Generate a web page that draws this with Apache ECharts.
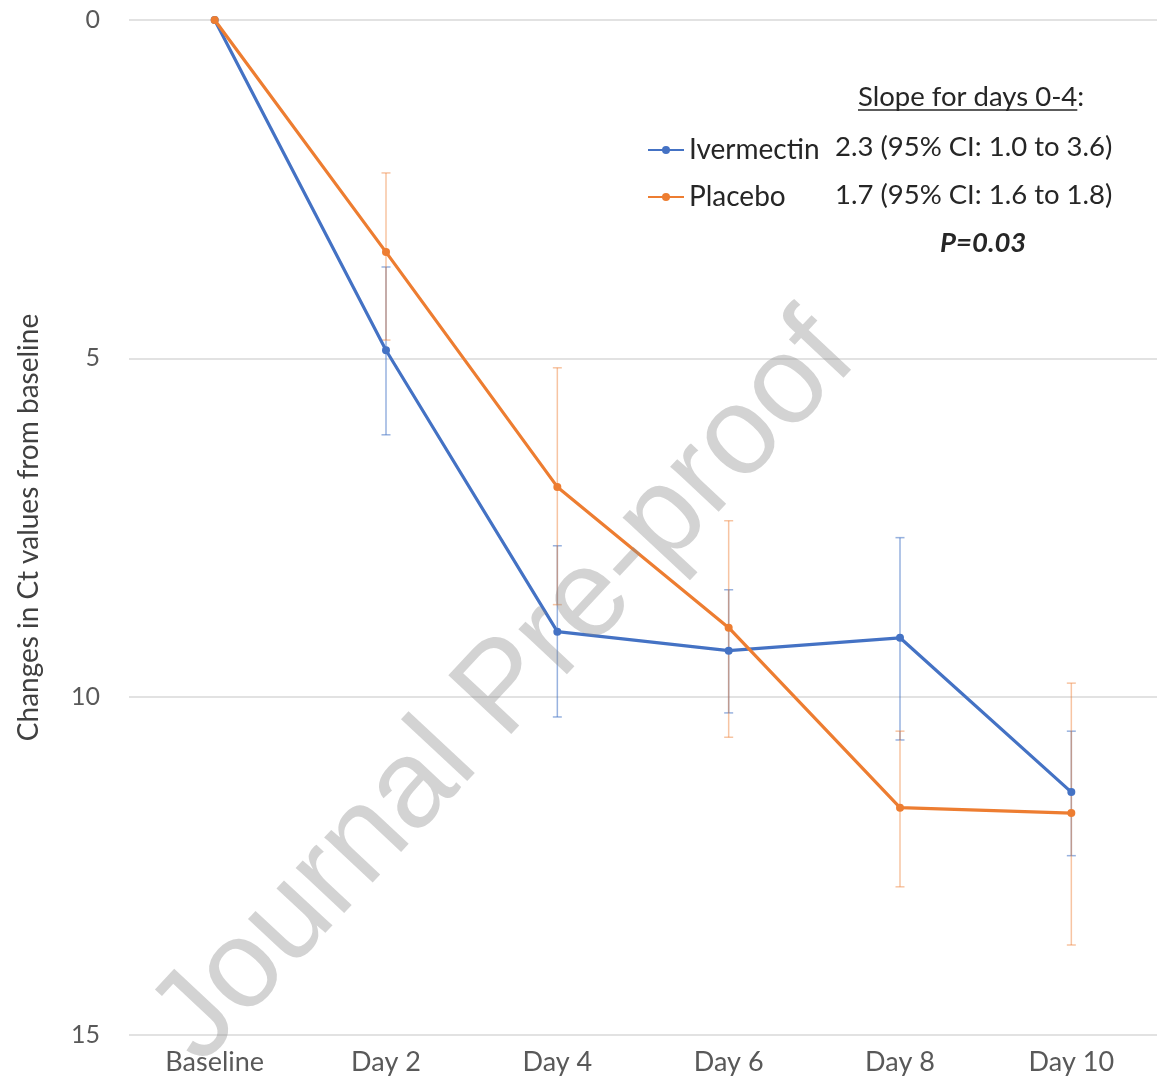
<!DOCTYPE html>
<html><head><meta charset="utf-8">
<script src="https://cdn.jsdelivr.net/npm/echarts@6/dist/echarts.min.js"></script>
<style>html,body{margin:0;padding:0;background:#fff}#c{width:1157px;height:1085px}</style>
</head><body><div id="c"></div>
<script>
var categories = ['Baseline','Day 2','Day 4','Day 6','Day 8','Day 10'];
var ivermectin = [0, 4.88, 9.04, 9.32, 9.13, 11.41];
var placebo    = [0, 3.43, 6.90, 8.98, 11.64, 11.72];
var ivermectinLow  = [null, 3.65, 7.77, 8.42, 7.65, 10.51];
var ivermectinHigh = [null, 6.13, 10.30, 10.24, 10.64, 12.35];
var placeboLow  = [null, 2.26, 5.14, 7.40, 10.51, 9.80];
var placeboHigh = [null, 4.73, 8.64, 10.60, 12.81, 13.67];
var yTicks = [0, 5, 10, 15];

var BLUE = '#4472C4', ORANGE = '#ED7D31';
var FONT = 'Lato';
var TXT = 27.5;

function errData(lo, hi){
  var out = [];
  for (var i = 0; i < lo.length; i++) if (lo[i] != null) out.push([i, lo[i], hi[i]]);
  return out;
}
function errRender(color){
  return function(params, api){
    var x = api.value(0), lo = api.value(1), hi = api.value(2);
    var p1 = api.coord([x, lo]), p2 = api.coord([x, hi]);
    var w = 4.5;
    var st = {stroke: color, lineWidth: 1.5};
    return {type:'group', children:[
      {type:'line', shape:{x1:p1[0],y1:p1[1],x2:p2[0],y2:p2[1]}, style:st},
      {type:'line', shape:{x1:p1[0]-w,y1:p1[1],x2:p1[0]+w,y2:p1[1]}, style:st},
      {type:'line', shape:{x1:p2[0]-w,y1:p2[1],x2:p2[0]+w,y2:p2[1]}, style:st}
    ]};
  };
}

var mctx = document.createElement('canvas').getContext('2d');
mctx.font = TXT + 'px ' + FONT;
var slopeW = mctx.measureText('Slope for days 0-4').width;

var chart = echarts.init(document.getElementById('c'), null, {renderer:'canvas'});
chart.setOption({
  animation: false,
  backgroundColor: '#fff',
  textStyle: {fontFamily: FONT},
  grid: {left: 129, top: 20, width: 1034, height: 1015, containLabel: false},
  legend: {
    data: ['Ivermectin', 'Placebo'],
    orient: 'vertical', left: 642, top: 131,
    itemWidth: 36, itemHeight: 10, itemGap: 19,
    textStyle: {fontFamily: FONT, fontSize: 28, color: '#262626', lineHeight: 28}
  },
  xAxis: {
    type: 'category', data: categories, boundaryGap: true,
    axisLine: {show: false}, axisTick: {show: false},
    axisLabel: {fontFamily: FONT, fontSize: 27, color: '#595959', margin: 14}
  },
  yAxis: {
    type: 'value', inverse: true, min: 0, max: 15, interval: 5,
    name: 'Changes in Ct values from baseline', nameLocation: 'middle', nameGap: 86,
    nameRotate: 90,
    nameTextStyle: {fontFamily: FONT, fontSize: 28, color: '#404040'},
    axisLine: {show: false}, axisTick: {show: false},
    axisLabel: {fontFamily: FONT, fontSize: 25, color: '#595959', margin: 29,
      formatter: function(v){ return yTicks.indexOf(v) >= 0 ? String(v) : ''; }},
    splitLine: {lineStyle: {color: '#D9D9D9', width: 1.5}}
  },
  series: [
    {type:'custom', name:'ivErr', renderItem: errRender('rgba(68,114,196,0.55)'),
     data: errData(ivermectinLow, ivermectinHigh), z: 1, silent: true},
    {type:'custom', name:'plErr', renderItem: errRender('rgba(237,125,49,0.45)'),
     data: errData(placeboLow, placeboHigh), z: 1, silent: true},
    {type:'line', name:'Ivermectin', data: ivermectin, color: BLUE,
     symbol:'circle', symbolSize: 8, lineStyle:{width: 3.2, color: BLUE},
     itemStyle:{color: BLUE}, z: 3},
    {type:'line', name:'Placebo', data: placebo, color: ORANGE,
     symbol:'circle', symbolSize: 8, lineStyle:{width: 3.2, color: ORANGE},
     itemStyle:{color: ORANGE}, z: 4}
  ],
  graphic: [
    {type:'text', x: 858, y: 97, z: 50,
     style:{text:'Slope for days 0-4:', font: TXT + 'px ' + FONT, fill:'#262626', textVerticalAlign:'middle'}},
    {type:'line', z: 50, shape:{x1: 858, y1: 110, x2: 858 + slopeW, y2: 110},
     style:{stroke:'#262626', lineWidth: 1.5}},
    {type:'text', x: 835, y: 147, z: 50,
     style:{text:'2.3 (95% CI: 1.0 to 3.6)', font: TXT + 'px ' + FONT, fill:'#262626', textVerticalAlign:'middle'}},
    {type:'text', x: 835, y: 195, z: 50,
     style:{text:'1.7 (95% CI: 1.6 to 1.8)', font: TXT + 'px ' + FONT, fill:'#262626', textVerticalAlign:'middle'}},
    {type:'text', x: 940, y: 243, z: 50,
     style:{text:'P=0.03', font: 'italic bold ' + TXT + 'px ' + FONT, fill:'#262626', textVerticalAlign:'middle'}},
    {type:'text', x: 505, y: 690, rotation: 0.82, z: 100,
     style:{text:'Journal Pre-proof', font: '125px "Liberation Sans"', fill:'rgba(140,140,140,0.38)',
            textAlign:'center', textVerticalAlign:'middle'}}
  ]
});
</script></body></html>
